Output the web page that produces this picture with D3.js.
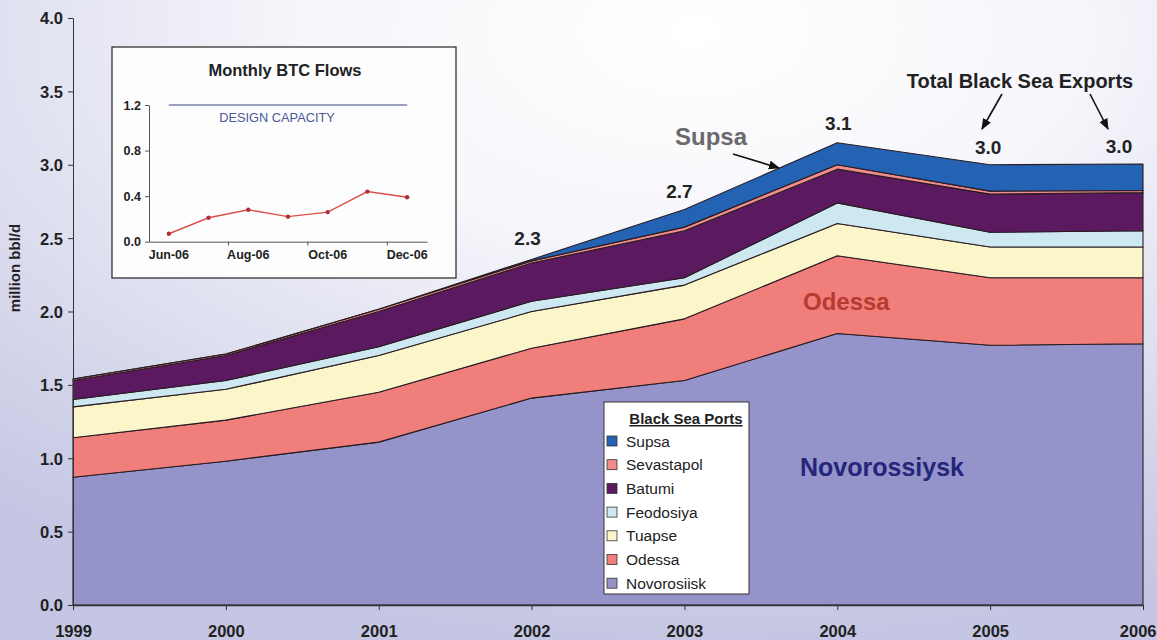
<!DOCTYPE html>
<html>
<head>
<meta charset="utf-8">
<script src="https://cdn.jsdelivr.net/npm/d3@7"></script>
<style>
  html, body { margin: 0; padding: 0; background: #fff; }
  svg { display: block; font-family: "Liberation Sans", Arial, sans-serif; }
</style>
</head>
<body>
<svg id="chart" width="1157" height="640"></svg>
<script>
// ---------------- data ----------------
const years = [1999, 2000, 2001, 2002, 2003, 2004, 2005, 2006];
const novorossiysk = [0.87, 0.98, 1.11, 1.41, 1.53, 1.85, 1.77, 1.78];
const odessa       = [0.27, 0.28, 0.34, 0.34, 0.42, 0.53, 0.46, 0.45];
const tuapse       = [0.21, 0.21, 0.25, 0.25, 0.23, 0.22, 0.21, 0.21];
const feodosiya    = [0.05, 0.06, 0.06, 0.07, 0.05, 0.14, 0.10, 0.11];
const batumi       = [0.13, 0.17, 0.24, 0.26, 0.32, 0.23, 0.26, 0.26];
const sevastapol   = [0.01, 0.01, 0.015, 0.015, 0.025, 0.03, 0.02, 0.015];
const supsa        = [0, 0, 0, 0.01, 0.12, 0.15, 0.18, 0.18];

const seriesKeys   = ["Novorosiisk", "Odessa", "Tuapse", "Feodosiya", "Batumi", "Sevastapol", "Supsa"];
const seriesValues = [novorossiysk, odessa, tuapse, feodosiya, batumi, sevastapol, supsa];
const seriesColors = ["#9494ca", "#f07f7b", "#fbf6c9", "#cde8f0", "#5b1a5f", "#f08c8c", "#2462b4"];
const legendOrder  = ["Supsa", "Sevastapol", "Batumi", "Feodosiya", "Tuapse", "Odessa", "Novorosiisk"];

const yTicks = [0, 0.5, 1.0, 1.5, 2.0, 2.5, 3.0, 3.5, 4.0];

const totalLabelYears = [2002, 2003, 2004, 2005, 2006];
const totalLabelTexts = ["2.3", "2.7", "3.1", "3.0", "3.0"];

const btcMonths = ["Jun-06", "Jul-06", "Aug-06", "Sep-06", "Oct-06", "Nov-06", "Dec-06"];
const btcMonthLabels = ["Jun-06", "Aug-06", "Oct-06", "Dec-06"];
const btcFlows = [0.07, 0.21, 0.28, 0.22, 0.26, 0.44, 0.39];
const btcTicks = [0, 0.4, 0.8, 1.2];
const designCapacity = 1.2;

// ---------------- setup ----------------
const svg = d3.select("#chart");
const defs = svg.append("defs");

const bg = defs.append("radialGradient").attr("id", "bg")
  .attr("cx", "60%").attr("cy", "5%").attr("r", "95%")
  .attr("fx", "60%").attr("fy", "5%");
bg.append("stop").attr("offset", "0%").attr("stop-color", "#ffffff");
bg.append("stop").attr("offset", "35%").attr("stop-color", "#f6f6fb");
bg.append("stop").attr("offset", "100%").attr("stop-color", "#c4c6e3");
svg.append("rect").attr("width", 1157).attr("height", 640).attr("fill", "url(#bg)");

defs.append("marker").attr("id", "arrow")
  .attr("viewBox", "0 0 10 10").attr("refX", 9).attr("refY", 5)
  .attr("markerWidth", 7).attr("markerHeight", 7).attr("orient", "auto")
  .append("path").attr("d", "M0,1 L10,5 L0,9 Z").attr("fill", "#111");

const x = d3.scaleLinear().domain([1999, 2006]).range([73, 1143]);
const y = d3.scaleLinear().domain([0, 4]).range([605, 18]);

// ---------------- stacked areas ----------------
const rows = years.map((yr, i) => {
  const r = { year: yr };
  seriesKeys.forEach((k, j) => r[k] = seriesValues[j][i]);
  return r;
});
const stack = d3.stack().keys(seriesKeys);
const layers = stack(rows);
const area = d3.area()
  .x(d => x(d.data.year))
  .y0(d => y(d[0]))
  .y1(d => y(d[1]));

svg.append("g").selectAll("path").data(layers).join("path")
  .attr("d", area)
  .attr("fill", (d, i) => seriesColors[i])
  .attr("stroke", "#2a1c22")
  .attr("stroke-width", 1.1)
  .attr("stroke-linejoin", "round");

// ---------------- axes ----------------
const yAxis = svg.append("g").attr("transform", "translate(73,0)")
  .call(d3.axisLeft(y).tickValues(yTicks).tickFormat(d3.format(".1f")).tickSize(5).tickSizeOuter(0));
yAxis.select(".domain").attr("stroke", "#333");
yAxis.selectAll(".tick line").attr("stroke", "#333");
yAxis.selectAll("text")
  .attr("x", -10).attr("dy", "0.36em")
  .attr("font-size", 16.5).attr("font-weight", "bold").attr("fill", "#222")
  .attr("font-family", "Liberation Sans, Arial, sans-serif");

const xAxis = svg.append("g").attr("transform", "translate(0,605)")
  .call(d3.axisBottom(x).tickValues(years).tickFormat(d3.format("d")).tickSize(5).tickSizeOuter(0));
xAxis.select(".domain").attr("stroke", "#333").attr("stroke-width", 1.5);
xAxis.selectAll(".tick line").attr("stroke", "#333");
xAxis.selectAll("text")
  .attr("y", 32).attr("dy", 0)
  .attr("font-size", 16.5).attr("font-weight", "bold").attr("fill", "#222")
  .attr("font-family", "Liberation Sans, Arial, sans-serif");
// keep the last year label inside the picture
xAxis.selectAll(".tick").filter(d => d === years[years.length - 1]).select("text")
  .attr("text-anchor", "end").attr("x", 13);

svg.append("text")
  .attr("transform", "translate(20,268) rotate(-90)")
  .attr("text-anchor", "middle")
  .attr("font-size", 15).attr("font-weight", "600").attr("fill", "#222")
  .text("million bbl/d");

// ---------------- annotations ----------------
const totalsByYear = {};
layers[layers.length - 1].forEach(d => totalsByYear[d.data.year] = d[1]);
const labelDx = [-4, -5, 1, -2, -24];
const labelDy = [-14, -12, -13, -11, -11];
svg.append("g").selectAll("text").data(totalLabelYears).join("text")
  .attr("x", (d, i) => x(d) + labelDx[i])
  .attr("y", (d, i) => y(totalsByYear[d]) + labelDy[i])
  .attr("text-anchor", "middle")
  .attr("font-size", 19).attr("font-weight", "bold").attr("fill", "#222")
  .text((d, i) => totalLabelTexts[i]);

svg.append("text").attr("x", 1020).attr("y", 88).attr("text-anchor", "middle")
  .attr("font-size", 20).attr("font-weight", "bold").attr("fill", "#222")
  .text("Total Black Sea Exports");
svg.append("line").attr("x1", 1002).attr("y1", 94).attr("x2", 982).attr("y2", 129)
  .attr("stroke", "#111").attr("stroke-width", 1.6).attr("marker-end", "url(#arrow)");
svg.append("line").attr("x1", 1090).attr("y1", 94).attr("x2", 1108).attr("y2", 129)
  .attr("stroke", "#111").attr("stroke-width", 1.6).attr("marker-end", "url(#arrow)");

svg.append("text").attr("x", 675).attr("y", 145)
  .attr("font-size", 24).attr("font-weight", "bold").attr("fill", "#6a6a6a")
  .text("Supsa");
svg.append("line").attr("x1", 733).attr("y1", 154).attr("x2", 779).attr("y2", 168)
  .attr("stroke", "#111").attr("stroke-width", 1.6).attr("marker-end", "url(#arrow)");

svg.append("text").attr("x", 803).attr("y", 310)
  .attr("font-size", 24).attr("font-weight", "bold").attr("fill", "#b53a30")
  .text("Odessa");

svg.append("text").attr("x", 800).attr("y", 476)
  .attr("font-size", 25).attr("font-weight", "bold").attr("fill", "#25257a")
  .text("Novorossiysk");

// ---------------- legend ----------------
const lg = svg.append("g");
lg.append("rect").attr("x", 604).attr("y", 402).attr("width", 145).attr("height", 192)
  .attr("fill", "#ffffff").attr("stroke", "#333").attr("stroke-width", 1);
lg.append("text").attr("x", 686).attr("y", 424).attr("text-anchor", "middle")
  .attr("font-size", 15).attr("font-weight", "bold").attr("fill", "#222")
  .attr("text-decoration", "underline")
  .text("Black Sea Ports");
const lgItems = lg.selectAll("g.item").data(legendOrder).join("g")
  .attr("class", "item")
  .attr("transform", (d, i) => `translate(607,${441 + i * 23.7})`);
lgItems.append("rect").attr("x", 0).attr("y", -5).attr("width", 10).attr("height", 10)
  .attr("fill", d => seriesColors[seriesKeys.indexOf(d)])
  .attr("stroke", "#333").attr("stroke-width", 0.8);
lgItems.append("text").attr("x", 19).attr("y", 0).attr("dy", "0.36em")
  .attr("font-size", 15.5).attr("fill", "#222")
  .text(d => d);

// ---------------- inset: Monthly BTC Flows ----------------
const ins = svg.append("g");
ins.append("rect").attr("x", 112).attr("y", 47).attr("width", 344).attr("height", 231)
  .attr("fill", "#fdfdfe").attr("stroke", "#333").attr("stroke-width", 1.3);
ins.append("text").attr("x", 285).attr("y", 76).attr("text-anchor", "middle")
  .attr("font-size", 16.5).attr("font-weight", "bold").attr("fill", "#222")
  .text("Monthly BTC Flows");

const xi = d3.scaleBand().domain(btcMonths).range([149, 427]);
const yi = d3.scaleLinear().domain([0, 1.2]).range([241.7, 105]);

const yiAxis = ins.append("g").attr("transform", "translate(149,0)")
  .call(d3.axisLeft(yi).tickValues(btcTicks).tickFormat(d3.format(".1f")).tickSize(4).tickSizeOuter(0));
yiAxis.select(".domain").attr("stroke", "#555");
yiAxis.selectAll(".tick line").attr("stroke", "#555");
yiAxis.selectAll("text").attr("x", -8)
  .attr("font-size", 12.5).attr("font-weight", "bold").attr("fill", "#222")
  .attr("font-family", "Liberation Sans, Arial, sans-serif");

const xiAxis = ins.append("g").attr("transform", "translate(0,241.7)")
  .call(d3.axisBottom(xi).tickValues(btcMonthLabels).tickSize(0).tickSizeOuter(0).tickPadding(8));
xiAxis.select(".domain").attr("stroke", "#555");
xiAxis.selectAll("text")
  .attr("font-size", 12.5).attr("font-weight", "bold").attr("fill", "#222")
  .attr("font-family", "Liberation Sans, Arial, sans-serif");
ins.append("g").selectAll("line").data(btcMonthLabels.slice(1)).join("line")
  .attr("x1", d => xi(d)).attr("x2", d => xi(d))
  .attr("y1", 241.7).attr("y2", 245.5)
  .attr("stroke", "#555");

const bw = xi.bandwidth();
ins.append("line")
  .attr("x1", xi(btcMonths[0]) + bw / 2).attr("x2", xi(btcMonths[btcMonths.length - 1]) + bw / 2)
  .attr("y1", yi(designCapacity)).attr("y2", yi(designCapacity))
  .attr("stroke", "#3c4a86").attr("stroke-width", 1.2);
ins.append("text").attr("x", 277).attr("y", 122).attr("text-anchor", "middle")
  .attr("font-size", 12.8).attr("fill", "#4a5896")
  .text("DESIGN CAPACITY");

const line = d3.line().x((d, i) => xi(btcMonths[i]) + bw / 2).y(d => yi(d));
ins.append("path").datum(btcFlows).attr("d", line)
  .attr("fill", "none").attr("stroke", "#d9504a").attr("stroke-width", 1.4);
ins.append("g").selectAll("circle").data(btcFlows).join("circle")
  .attr("cx", (d, i) => xi(btcMonths[i]) + bw / 2)
  .attr("cy", d => yi(d))
  .attr("r", 2.2).attr("fill", "#b0303a");
</script>
</body>
</html>
